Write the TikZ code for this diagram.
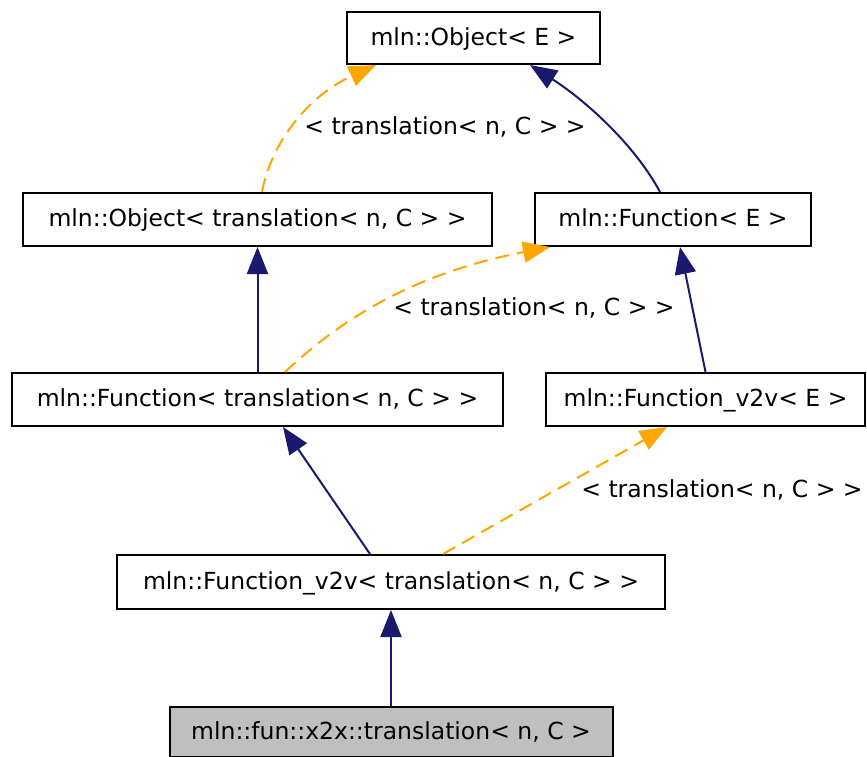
\documentclass[tikz,border=0pt]{standalone}
\usepackage{fontspec}
\setmainfont{DejaVu Sans}
\usetikzlibrary{arrows.meta}
\definecolor{navy}{HTML}{191970}
\definecolor{orng}{HTML}{FFA500}
\definecolor{boxgray}{HTML}{BFBFBF}
\begin{document}
\begin{tikzpicture}[x=1pt,y=-1pt,
  box/.style={draw=black, line width=2pt, fill=white, inner sep=0pt,
    text height=18pt, text depth=4pt, minimum height=53pt,
    font=\fontsize{23.5}{28}\selectfont},
  inh/.style={draw=navy, line width=2pt, -{Triangle[length=27pt,width=21pt]}},
  tmpl/.style={draw=orng, line width=2pt, dash pattern=on 14pt off 8pt,
    -{Triangle[length=27pt,width=21pt]}},
  lbl/.style={inner sep=0pt, text height=18pt, text depth=4pt,
    font=\fontsize{23.5}{28}\selectfont}]
\useasboundingbox (0,0) rectangle (867,756);
\fill[white] (0,0) rectangle (867,756);

\node[box, minimum width=253pt, minimum height=52pt] (oe) at (473.5,38) {mln::Object< E >};
\node[box, minimum width=469pt] (ot) at (257.5,219.5) {mln::Object< translation< n, C > >};
\node[box, minimum width=276pt] (fe) at (673,219.5) {mln::Function< E >};
\node[box, minimum width=491pt] (ft) at (257.5,399.5) {mln::Function< translation< n, C > >};
\node[box, minimum width=319pt] (fv) at (705.5,399.5) {mln::Function\_v2v< E >};
\node[box, minimum width=548pt, minimum height=54pt] (fvt) at (391,582) {mln::Function\_v2v< translation< n, C > >};
\node[box, fill=boxgray, minimum width=443pt, minimum height=50pt] (x2x) at (391,732) {mln::fun::x2x::translation< n, C >};

\draw[tmpl] ([xshift=4.5pt]ot.north) .. controls (272,140) and (310,95) .. ([xshift=-97.5pt]oe.south);
\node[lbl] (l1) at (445,127) {< translation< n, C > >};
\draw[inh] ([xshift=-13pt]fe.north) .. controls (635,145) and (585,100) .. ([xshift=56.5pt]oe.south);
\draw[inh] (ft.north) -- (ot.south);
\draw[tmpl] ([xshift=27.5pt]ft.north) .. controls (330,330) and (400,276) .. ([xshift=-123pt]fe.south);
\node[lbl] (l2) at (534,308) {< translation< n, C > >};
\draw[inh] (fv.north) -- ([xshift=7pt]fe.south);
\draw[inh] ([xshift=-21pt]fvt.north) -- ([xshift=25.5pt]ft.south);
\draw[tmpl] ([xshift=52pt]fvt.north) -- ([xshift=-38.5pt]fv.south);
\node[lbl] (l3) at (722,490) {< translation< n, C > >};
\draw[inh] (x2x.north) -- (fvt.south);
\end{tikzpicture}
\end{document}
